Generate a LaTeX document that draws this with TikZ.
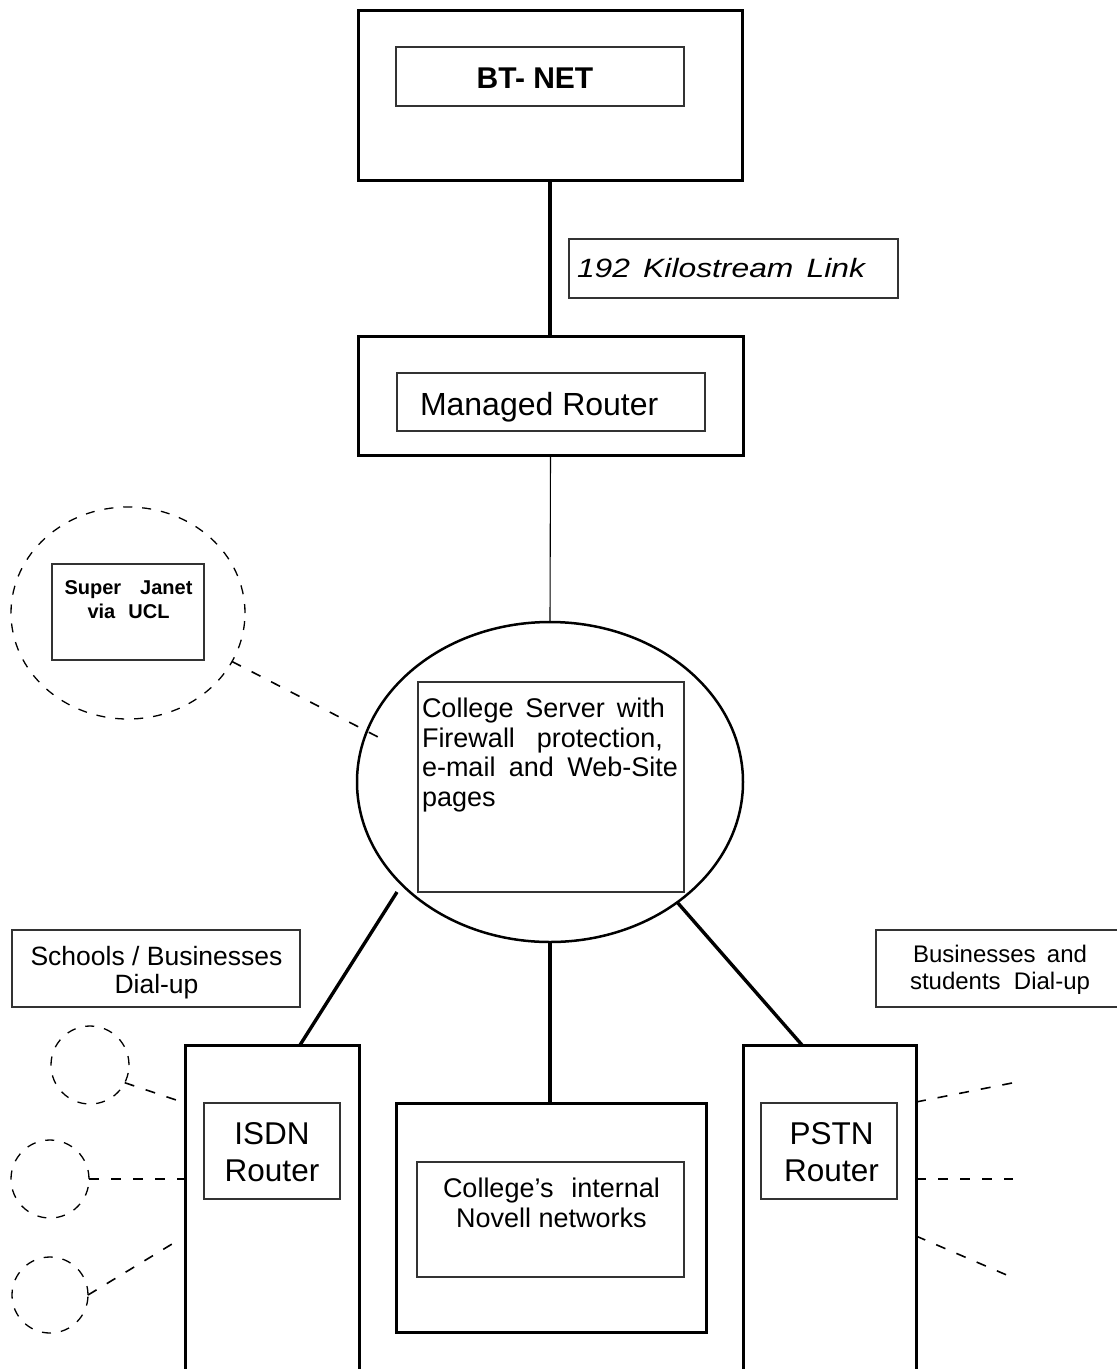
\documentclass[tikz,border=0pt]{standalone}
\usepackage{fontspec}
\usepackage{graphicx}
\setmainfont{Liberation Sans}
\usetikzlibrary{shapes.geometric}
\newcommand{\fsz}[2]{\fontsize{#1}{#2}\selectfont}
\begin{document}
\begin{tikzpicture}[x=1pt,y=-1pt,
  outerbox/.style={draw, line width=3pt, inner sep=0pt, outer sep=0pt},
  innerbox/.style={draw=black!80, line width=1.2pt, inner sep=0pt, outer sep=0pt},
  txt/.style={inner sep=0pt, outer sep=0pt},
  thickline/.style={line width=3.4pt},
  thinline/.style={line width=1.1pt},
  dashline/.style={line width=1.6pt, dash pattern=on 10pt off 12pt},
  dashcirc/.style={draw, line width=1.3pt, dash pattern=on 9pt off 10pt, inner sep=0pt, outer sep=0pt}]
\useasboundingbox (0,0) rectangle (1117,1369);
\clip (0,0) rectangle (1117,1369);
\fill[white] (0,0) rectangle (1117,1369);

% BT-NET
\node[outerbox, minimum width=384pt, minimum height=170pt] (btnet) at (550,95) {};
\node[innerbox, minimum width=288pt, minimum height=59pt] (btnetin) at (540,76.5) {};
\node[txt, anchor=base, font=\fsz{30}{36}\bfseries] (btnettxt) at (535,88) {BT- NET};

% link label
\node[innerbox, minimum width=329pt, minimum height=59pt] (link) at (733.5,268.5) {};
\node[txt, anchor=base west, font=\fsz{26.5}{32}\itshape] (linktxt) at (577,277) {\scalebox{1.2}[1]{192\hspace{11pt}Kilostream\hspace{11pt}Link}};

% Managed router
\node[outerbox, minimum width=385pt, minimum height=119pt] (mrouter) at (550.5,395.5) {};
\node[innerbox, minimum width=308pt, minimum height=58pt] (mrouterin) at (551,402) {};
\node[txt, anchor=base west, font=\fsz{32}{38}] (mroutertxt) at (420,415) {Managed Router};

% College server
\node[ellipse, draw, line width=2.5pt, minimum width=386pt, minimum height=320pt, inner sep=0pt, outer sep=0pt] (server) at (550,782) {};
\node[innerbox, minimum width=266pt, minimum height=210pt] (serverin) at (551,787) {};
\node[txt, anchor=north west, align=left, font=\fsz{27}{29.5}] (servertxt) at (422,698.3)
  {\makebox[243pt][s]{College Server with}\\\makebox[241pt][s]{Firewall protection,}\\\makebox[256pt][s]{e-mail and Web-Site}\\pages};

% Super Janet
\node[dashcirc, ellipse, minimum width=234pt, minimum height=212pt] (janet) at (128,613) {};
\node[innerbox, minimum width=152pt, minimum height=96pt] (janetin) at (128,612) {};
\node[txt, anchor=north, align=center, font=\fsz{20}{24}\bfseries] (janettxt) at (128.5,580.4)
  {\makebox[128pt][s]{Super Janet}\\\makebox[82pt][s]{via UCL}};

% dial-up labels
\node[innerbox, minimum width=288pt, minimum height=77pt] (schools) at (156,968.5) {};
\node[txt, anchor=north, align=center, font=\fsz{26.5}{28}] (schoolstxt) at (156.5,946.7) {Schools / Businesses\\Dial-up};
\node[innerbox, minimum width=260pt, minimum height=77pt] (business) at (1006,968.5) {};
\node[txt, anchor=north, align=center, font=\fsz{24}{27}] (businesstxt) at (1000,945.5)
  {\makebox[174pt][s]{Businesses and}\\\makebox[180pt][s]{students Dial-up}};

% ISDN router
\node[outerbox, minimum width=174pt, minimum height=355pt] (isdn) at (272,1222.5) {};
\node[innerbox, minimum width=136pt, minimum height=96pt] (isdnin) at (272,1151) {};
\node[txt, anchor=north, align=center, font=\fsz{31.5}{37}] (isdntxt) at (272,1122) {ISDN\\Router};

% PSTN router
\node[outerbox, minimum width=173pt, minimum height=355pt] (pstn) at (829.5,1222.5) {};
\node[innerbox, minimum width=136pt, minimum height=96pt] (pstnin) at (829,1151) {};
\node[txt, anchor=north, align=center, font=\fsz{31.5}{37}] (pstntxt) at (831.5,1122) {PSTN\\Router};

% Novell
\node[outerbox, minimum width=310pt, minimum height=229pt] (novell) at (551,1217.5) {};
\node[innerbox, minimum width=267pt, minimum height=115pt] (novellin) at (550.5,1219.5) {};
\node[txt, anchor=north, align=center, font=\fsz{27}{30}] (novelltxt) at (551.5,1178.3)
  {\makebox[217pt][s]{College’s internal}\\Novell networks};

% dial-up circles
\node[dashcirc, circle, minimum size=78pt] (d1) at (90,1065) {};
\node[dashcirc, circle, minimum size=78pt] (d2) at (50,1179) {};
\node[dashcirc, circle, minimum size=76pt] (d3) at (50,1295) {};

% coordinates for free ends
\coordinate (srvSW) at (397,892);
\coordinate (isdnTop) at (300,1045);
\coordinate (srvSE) at (677,902);
\coordinate (pstnTop) at (802,1045);
\coordinate (srvW) at (378,737);
\coordinate (isdnL1) at (185,1103);
\coordinate (isdnL3) at (177,1241);
\coordinate (pR1) at (916,1102);
\coordinate (pR1e) at (1012,1083);
\coordinate (pR2) at (916,1179);
\coordinate (pR2e) at (1013,1179);
\coordinate (pR3) at (916,1236);
\coordinate (pR3e) at (1009,1276);

% connectors
\draw[thickline] (btnet.south) -- (btnet.south |- mrouter.north);
\draw[thinline] (mrouter.south) -- (server.north);
\draw[thickline] (srvSW) -- (isdnTop);
\draw[thickline] (server.south) -- (server.south |- novell.north);
\draw[thickline] (srvSE) -- (pstnTop);

\draw[dashline] (janet.-25.7) -- (srvW);
\draw[dashline] (d1.-27) -- (isdnL1);
\draw[dashline] (d2.east) -- (isdn.west |- d2.east);
\draw[dashline] (d3.east) -- (isdnL3);
\draw[dashline] (pR1) -- (pR1e);
\draw[dashline] (pR2) -- (pR2e);
\draw[dashline] (pR3) -- (pR3e);
\end{tikzpicture}
\end{document}
